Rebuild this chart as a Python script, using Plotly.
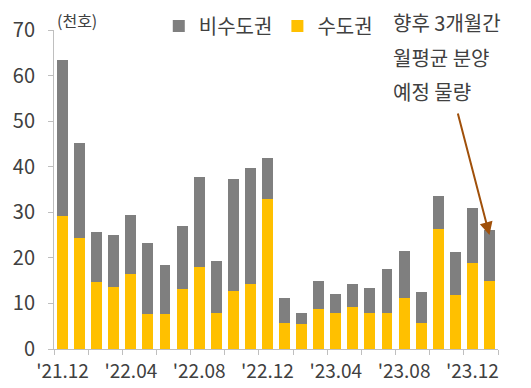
import plotly.graph_objects as go

months = ["'21.12", "'22.01", "'22.02", "'22.03", "'22.04", "'22.05", "'22.06", "'22.07",
          "'22.08", "'22.09", "'22.10", "'22.11", "'22.12", "'23.01", "'23.02", "'23.03",
          "'23.04", "'23.05", "'23.06", "'23.07", "'23.08", "'23.09", "'23.10", "'23.11",
          "'23.12", "향후"]
capital = [29.1, 24.3, 14.7, 13.7, 16.4, 7.7, 7.7, 13.2, 18.0, 7.9, 12.7, 14.2, 32.9,
           5.8, 5.4, 8.7, 7.8, 9.2, 7.8, 7.8, 11.1, 5.6, 26.3, 11.9, 18.8, 15.0]
total = [63.4, 45.3, 25.7, 25.0, 29.3, 23.3, 18.5, 26.9, 37.7, 19.4, 37.2, 39.8, 41.9,
         11.1, 7.9, 14.9, 12.1, 14.2, 13.3, 17.5, 21.5, 12.5, 33.5, 21.2, 31.0, 26.2]
non_capital = [round(t - c, 1) for t, c in zip(total, capital)]

tick_idx = [0, 4, 8, 12, 16, 20, 24]
tick_text = [months[i] for i in tick_idx]

FONT = "Noto Sans CJK KR"
TXT = "#404040"

x = list(range(len(months)))

fig = go.Figure()
fig.add_trace(go.Bar(x=x, y=capital, name="수도권", marker=dict(color="#FFC000", line=dict(width=0)),
                     customdata=months, hovertemplate="%{customdata}: %{y}<extra>수도권</extra>"))
fig.add_trace(go.Bar(x=x, y=non_capital, name="비수도권", marker=dict(color="#7F7F7F", line=dict(width=0)),
                     customdata=months, hovertemplate="%{customdata}: %{y}<extra>비수도권</extra>"))

fig.update_layout(
    width=523, height=380,
    barmode="stack", bargap=0.36,
    margin=dict(l=46, r=33, t=22, b=39, autoexpand=False),
    plot_bgcolor="white", paper_bgcolor="white",
    font=dict(family=FONT, color=TXT, size=18),
    showlegend=True,
    legend=dict(orientation="h", traceorder="reversed", x=0.236, y=1.0125, xanchor="left", yanchor="middle",
                font=dict(size=20, color=TXT), itemwidth=30, bgcolor="rgba(0,0,0,0)"),
    xaxis=dict(range=[-0.5, 25.5], tickmode="array", tickvals=tick_idx, ticktext=tick_text,
               ticks="", showline=True, linecolor="#BFBFBF", linewidth=1, showgrid=False,
               zeroline=False, tickfont=dict(size=19, color=TXT), ticklabelstandoff=5,
               minor=dict(tickmode="linear", tick0=-0.5, dtick=2, ticks="outside", ticklen=5,
                          tickcolor="#BFBFBF", showgrid=False)),
    yaxis=dict(range=[0, 70], dtick=10, ticks="outside", ticklen=5, tickcolor="#BFBFBF",
               showline=True, linecolor="#BFBFBF", linewidth=1, showgrid=False, zeroline=False,
               tickfont=dict(size=20, color=TXT), ticklabelstandoff=9),
)

fig.add_annotation(text="(천호)", xref="paper", yref="paper", x=0.005, y=1.03,
                   xanchor="left", yanchor="middle", showarrow=False, borderpad=0,
                   font=dict(size=16, color=TXT))

for txt, yy in [("향후 3개월간", 1.022), ("월평균 분양", 0.915), ("예정 물량", 0.806)]:
    fig.add_annotation(text=txt, xref="paper", yref="paper", x=0.759, y=yy,
                       xanchor="left", yanchor="middle", showarrow=False, font=dict(size=20, color=TXT))

fig.add_annotation(x=25, y=25, xref="x", yref="y", text="", showarrow=True,
                   ax=-32, ay=-123, axref="pixel", ayref="pixel",
                   arrowhead=2, arrowsize=1.3, arrowwidth=2, arrowcolor="#A0500A")

fig.write_html("out.html")
